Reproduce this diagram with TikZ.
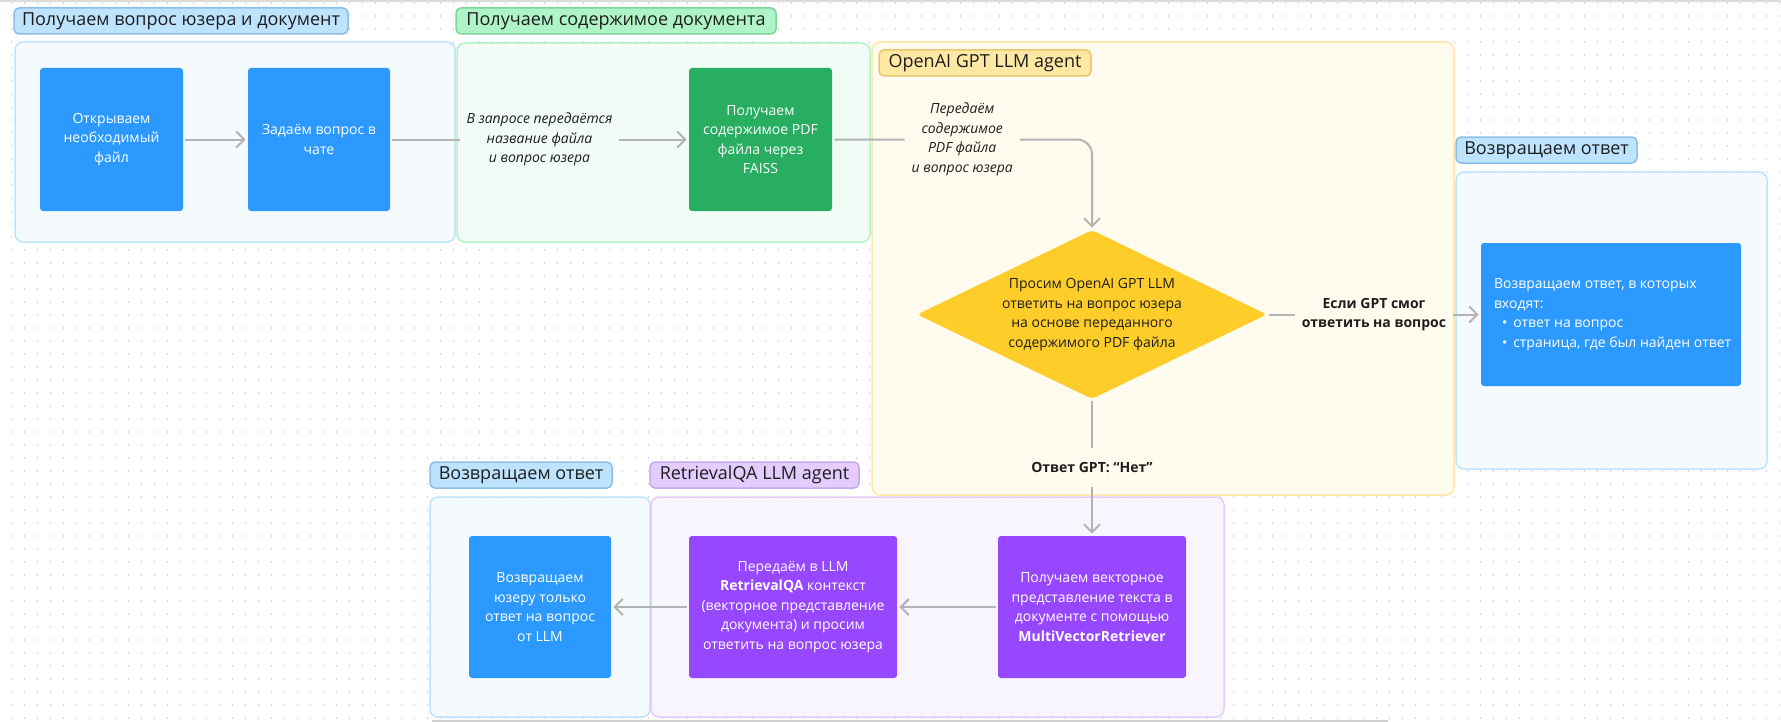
\documentclass[tikz,border=0pt]{standalone}
\usepackage{fontspec}
\setmainfont{Open Sans}
\usepackage{xcolor}
\usepackage{tikz}
\usetikzlibrary{shapes.geometric,arrows.meta}

\definecolor{cardblue}{RGB}{43,153,255}
\definecolor{cardgreen}{RGB}{39,174,96}
\definecolor{cardpurple}{RGB}{151,71,255}
\definecolor{cardyellow}{RGB}{255,205,41}
\definecolor{bluebg}{RGB}{245,250,255}
\definecolor{blueline}{RGB}{189,227,255}
\definecolor{bluepillline}{RGB}{140,190,230}
\definecolor{greenbg}{RGB}{242,252,246}
\definecolor{greenline}{RGB}{175,244,198}
\definecolor{greenpillline}{RGB}{130,210,160}
\definecolor{yellowbg}{RGB}{255,251,238}
\definecolor{yellowline}{RGB}{255,232,163}
\definecolor{yellowpillline}{RGB}{230,200,110}
\definecolor{purplebg}{RGB}{249,245,255}
\definecolor{purpleline}{RGB}{228,204,255}
\definecolor{purplepillline}{RGB}{200,170,235}
\definecolor{arrowgray}{RGB}{179,179,179}
\definecolor{ink}{RGB}{30,30,30}
\definecolor{dotgray}{RGB}{212,212,212}

\newcommand{\cardfont}{\fontsize{7pt}{9.75pt}\selectfont}
\newcommand{\pillfont}{\fontsize{9pt}{11pt}\selectfont}

\tikzset{
	grp/.style={draw, rounded corners=4pt, line width=0.75pt, inner sep=0},
	pill/.style={draw, rounded corners=2.5pt, line width=0.75pt, inner sep=0, minimum height=13pt, font=\pillfont, text=ink},
	card/.style={rounded corners=1.5pt, inner sep=0, text=white, align=center, font=\cardfont},
	flow/.style={draw=arrowgray, line width=1pt, shorten >=1pt, shorten <=1pt, -{Straight Barb[length=4pt,width=8pt]}},
	note/.style={font=\cardfont\itshape, align=center, text=ink, inner sep=3.5pt},
	tag/.style={font=\cardfont\bfseries, align=center, text=ink, inner sep=3.5pt},
	dotrow/.style={draw=dotgray, line width=0.7pt, dash pattern=on 0.7pt off 5.8pt, dash phase=-5.5pt}
}

\begin{document}
\begin{tikzpicture}[x=0.5pt, y=-0.5pt]
	% Canvas and dot grid:
	\useasboundingbox (0, 0) rectangle (1781, 722);
	\fill[white] (0, 0) rectangle (1781, 722);
	\foreach \gy in {3,16,...,718} \draw[dotrow] (0, \gy) -- (1781, \gy);
	\draw[draw={rgb,255:red,220;green,220;blue,220}, line width=1pt] (0, 1) -- (1781, 1);
	\draw[draw={rgb,255:red,207;green,207;blue,207}, line width=1pt] (432, 720.5) -- (1388, 720.5);

	% Groups:
	\node[grp, draw=blueline, fill=bluebg, minimum width=220pt, minimum height=100pt] (Grp1) at (235, 142) {};
	\node[grp, draw=greenline, fill=greenbg, minimum width=206.5pt, minimum height=99.5pt] (Grp2) at (663.5, 142.5) {};
	\node[grp, draw=yellowline, fill=yellowbg, minimum width=291pt, minimum height=226.5pt] (Grp3) at (1163, 268.5) {};
	\node[grp, draw=blueline, fill=bluebg, minimum width=155.5pt, minimum height=148.5pt] (Grp4) at (1611.5, 320.5) {};
	\node[grp, draw=blueline, fill=bluebg, minimum width=110pt, minimum height=110pt] (Grp5) at (540, 607) {};
	\node[grp, draw=purpleline, fill=purplebg, minimum width=286.5pt, minimum height=110pt] (Grp6) at (937.5, 607) {};

	% Group titles:
	\node[pill, draw=bluepillline, fill=blueline, minimum width=167pt] (Pill1) at (181, 21) {Получаем вопрос юзера и документ};
	\node[pill, draw=greenpillline, fill=greenline, minimum width=160pt] (Pill2) at (616, 21) {Получаем содержимое документа};
	\node[pill, draw=yellowpillline, fill=yellowline, minimum width=106pt] (Pill3) at (985, 63) {OpenAI GPT LLM agent};
	\node[pill, draw=bluepillline, fill=blueline, minimum width=90.5pt] (Pill4) at (1546.5, 150) {Возвращаем ответ};
	\node[pill, draw=bluepillline, fill=blueline, minimum width=91pt] (Pill5) at (521, 475) {Возвращаем ответ};
	\node[pill, draw=purplepillline, fill=purpleline, minimum width=104.5pt] (Pill6) at (754.5, 475) {RetrievalQA LLM agent};

	% Steps:
	\node[card, fill=cardblue, minimum width=71.5pt, minimum height=71.5pt] (Open) at (111.5, 139.5) {Открываем\\необходимый\\файл};
	\node[card, fill=cardblue, minimum width=71pt, minimum height=71.5pt] (Ask) at (319, 139.5) {Задаём вопрос в\\чате};
	\node[card, fill=cardgreen, minimum width=71.5pt, minimum height=71.5pt] (Faiss) at (760.5, 139.5) {Получаем\\содержимое PDF\\файла через\\FAISS};
	\node[diamond, fill=cardyellow, rounded corners=2pt, inner sep=0, minimum width=175pt, minimum height=84.5pt] (Dia) at (1092, 314.5) {};
	\node[font=\cardfont, text=ink, align=center] (DiaText) at (Dia.center) {Просим OpenAI GPT LLM\\ответить на вопрос юзера\\на основе переданного\\содержимого PDF файла};
	\node[card, fill=cardblue, minimum width=130pt, minimum height=71.5pt] (Result) at (1611, 314.5) {};
	\node[font=\cardfont, text=white, align=left, anchor=west, inner sep=0] (ResultText) at ([xshift=6.5pt]Result.west) {Возвращаем ответ, в которых\\входят:\\\hspace*{4pt}\textbullet\hspace{3pt}ответ на вопрос\\\hspace*{4pt}\textbullet\hspace{3pt}страница, где был найден ответ};
	\node[card, fill=cardpurple, minimum width=94pt, minimum height=71pt] (Mvr) at (1092, 607) {Получаем векторное\\представление текста в\\документе с помощью\\\textbf{MultiVectorRetriever}};
	\node[card, fill=cardpurple, minimum width=104pt, minimum height=71pt] (Rqa) at (793, 607) {Передаём в LLM\\\textbf{RetrievalQA} контекст\\(векторное представление\\документа) и просим\\ответить на вопрос юзера};
	\node[card, fill=cardblue, minimum width=71pt, minimum height=71pt] (Ans) at (540, 607) {Возвращаем\\юзеру только\\ответ на вопрос\\от LLM};

	% Connectors:
	\draw[flow] (Open) -- (Ask);
	\draw[flow] (Ask) -- node[note, fill=greenbg] (Note1) {В запросе передаётся\\название файла\\и вопрос юзера} (Faiss);
	\draw[flow, rounded corners=7.5pt] (Faiss.east) -| node[note, fill=yellowbg, pos=0.25] (Note2) {Передаём\\содержимое\\PDF файла\\и вопрос юзера} (Dia.north);
	\draw[flow] (Dia.east) -- node[tag, fill=yellowbg] (Yes) {Если GPT смог\\ответить на вопрос} (Result.west);
	\draw[flow] (Dia.south) -- node[tag, fill=yellowbg, inner ysep=7pt] (No) {Ответ GPT: “Нет”} (Mvr.north);
	\draw[flow] (Mvr) -- (Rqa);
	\draw[flow] (Rqa) -- (Ans);
\end{tikzpicture}
\end{document}
